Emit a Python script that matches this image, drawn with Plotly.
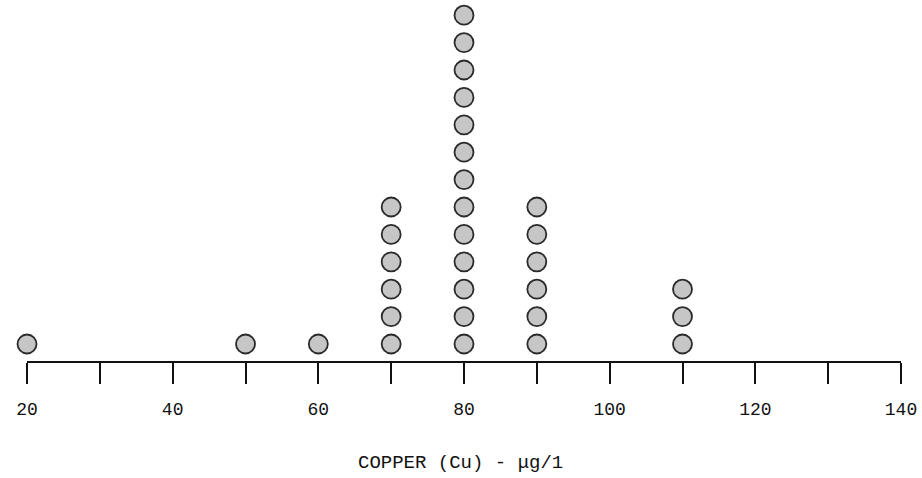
import plotly.graph_objects as go

# Data
copper_values = [20, 50, 60, 70, 80, 90, 110]
counts = [1, 1, 1, 6, 13, 6, 3]
tick_values = [20, 30, 40, 50, 60, 70, 80, 90, 100, 110, 120, 130, 140]
tick_labels = ["20", "", "40", "", "60", "", "80", "", "100", "", "120", "", "140"]
x_title = "COPPER (Cu) - μg/1"

xs, ys = [], []
for v, n in zip(copper_values, counts):
    for k in range(1, n + 1):
        xs.append(v)
        ys.append(k)

fig = go.Figure(go.Scatter(
    x=xs, y=ys, mode="markers", cliponaxis=False,
    marker=dict(size=19, color="#c6c6c6", line=dict(color="#2a2a2a", width=1.8)),
    hoverinfo="skip",
))

fig.update_layout(
    width=922, height=478,
    margin=dict(l=27, r=21, t=0, b=117),
    paper_bgcolor="white", plot_bgcolor="white",
    showlegend=False,
    font=dict(family="Liberation Mono", color="#111", size=18),
    xaxis=dict(
        range=[20, 140], showgrid=False, zeroline=False,
        showline=True, linecolor="#111", linewidth=2,
        ticks="outside", ticklen=21, tickwidth=2, tickcolor="#111",
        tickvals=tick_values, ticktext=tick_labels,
        tickfont=dict(size=18), ticklabelstandoff=9,
    ),
    yaxis=dict(range=[0.38, 13.555], visible=False),
    annotations=[dict(
        text=x_title, xref="x", yref="paper", x=79.5, y=-0.2825,
        xanchor="center", yanchor="middle", showarrow=False,
        font=dict(size=19, family="Liberation Mono", color="#111"),
    )],
)

fig.write_html("out.html", config={"displayModeBar": False},
               post_script="document.body.style.margin='0';")
